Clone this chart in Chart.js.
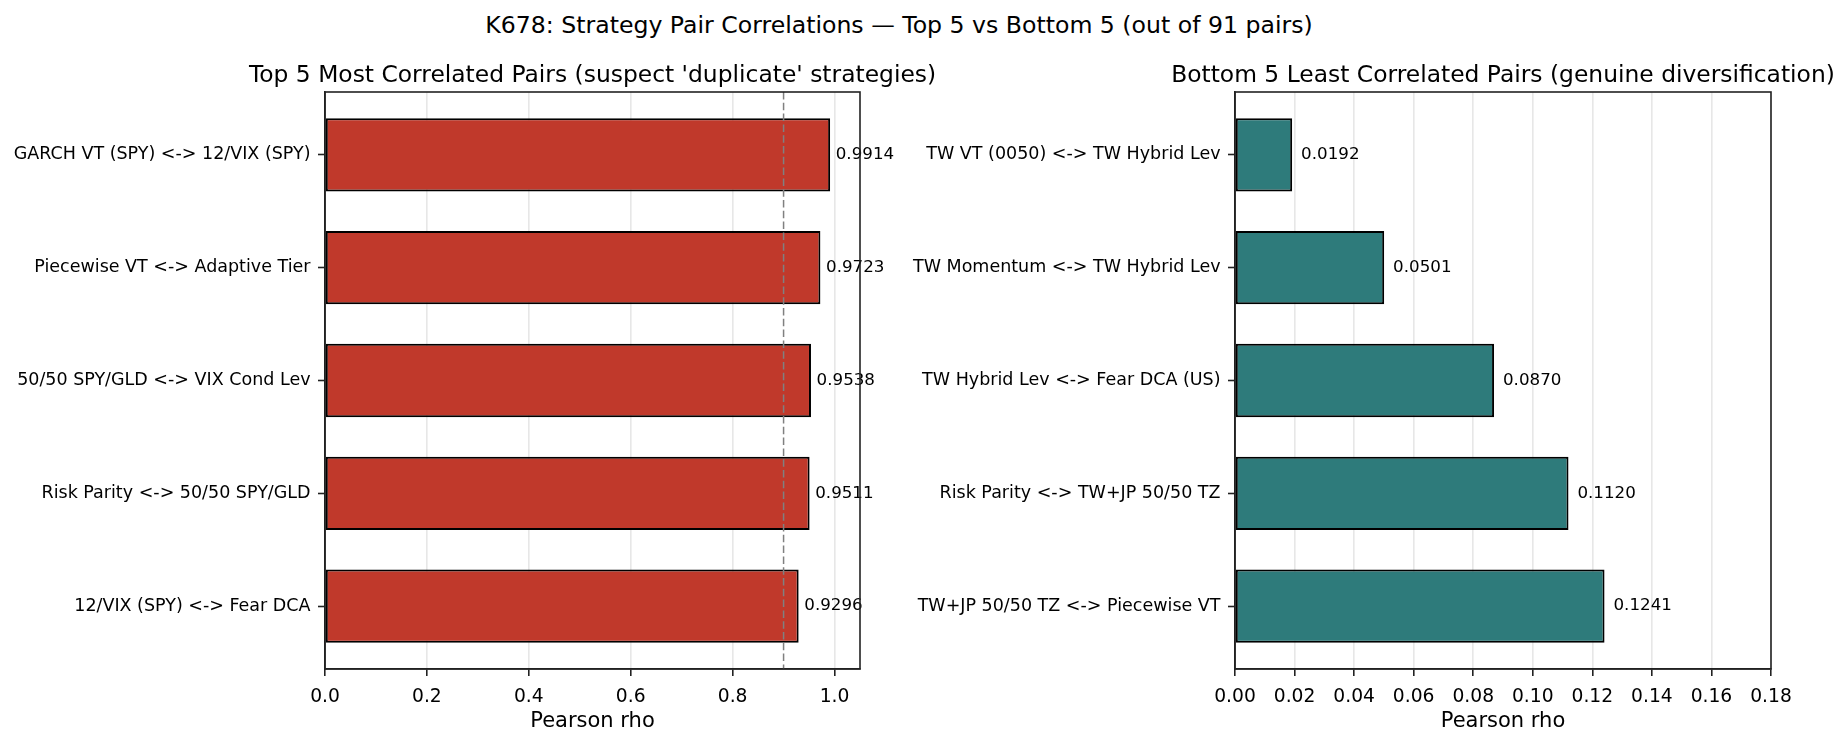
<!DOCTYPE html>
<html>
<head>
<meta charset="utf-8">
<title>K678 Strategy Pair Correlations</title>
<script src="https://cdn.jsdelivr.net/npm/chart.js@4.4.1/dist/chart.umd.min.js"></script>
<style>
  html, body { margin: 0; padding: 0; background: #fff; }
  #page { position: relative; width: 1848px; height: 744px; overflow: hidden; font-family: "DejaVu Sans", sans-serif; }
  #suptitle { position: absolute; left: 0; width: 1798px; top: 14px; font-size: 23.6px; line-height: 23px; text-align: center; color: #000; white-space: nowrap; }
  canvas { position: absolute; top: 0; }
  #top_chart { left: 0; }
  #bottom_chart { left: 905px; }
</style>
</head>
<body>
<div id="page">
  <div id="suptitle">K678: Strategy Pair Correlations — Top 5 vs Bottom 5 (out of 91 pairs)</div>
  <canvas id="top_chart" width="950" height="744"></canvas>
  <canvas id="bottom_chart" width="943" height="744"></canvas>
</div>
<script>
// Chart data
const top_pairs = [
  "GARCH VT (SPY) <-> 12/VIX (SPY)",
  "Piecewise VT <-> Adaptive Tier",
  "50/50 SPY/GLD <-> VIX Cond Lev",
  "Risk Parity <-> 50/50 SPY/GLD",
  "12/VIX (SPY) <-> Fear DCA",
];
const top_rho = [0.9914, 0.9723, 0.9538, 0.9511, 0.9296];

const bottom_pairs = [
  "TW VT (0050) <-> TW Hybrid Lev",
  "TW Momentum <-> TW Hybrid Lev",
  "TW Hybrid Lev <-> Fear DCA (US)",
  "Risk Parity <-> TW+JP 50/50 TZ",
  "TW+JP 50/50 TZ <-> Piecewise VT",
];
const bottom_rho = [0.0192, 0.0501, 0.087, 0.112, 0.1241];

// x axis limits and ticks
const top_x_max = 1.05;
const top_x_step = 0.2;
const bottom_x_max = 0.18;
const bottom_x_step = 0.02;
const duplicate_threshold = 0.9; // dashed line on the left panel

const font_family = "'DejaVu Sans', sans-serif";
Chart.defaults.font.family = font_family;
Chart.defaults.color = "#000";

// Draws the panel title, dashed threshold, value labels and the box around the plot
const pair_overlay = {
  id: "pair_overlay",
  afterDraw(chart, args, opts) {
    const { ctx, chartArea: area, scales } = chart;
    const x = scales.x;
    const y = scales.y;
    ctx.save();

    // panel title, centred over the plot area
    ctx.fillStyle = "#000";
    ctx.font = "23.4px " + font_family;
    ctx.textAlign = "center";
    ctx.textBaseline = "middle";
    ctx.fillText(opts.title, (area.left + area.right) / 2, 76);

    if (opts.threshold != null) {
      const tx = x.getPixelForValue(opts.threshold);
      ctx.strokeStyle = "#808080";
      ctx.lineWidth = 1.5;
      ctx.setLineDash([7.5, 3.3]);
      ctx.beginPath();
      ctx.moveTo(tx, area.top);
      ctx.lineTo(tx, area.bottom);
      ctx.stroke();
      ctx.setLineDash([]);
    }

    // value labels next to each bar
    ctx.font = "16.7px " + font_family;
    ctx.textAlign = "left";
    chart.data.datasets[0].data.forEach((pt) => {
      const lx = x.getPixelForValue(pt.x + opts.label_offset);
      const ly = y.getPixelForValue(pt.y);
      ctx.fillText(pt.x.toFixed(4), lx, ly);
    });

    // box spines
    ctx.strokeStyle = "#222";
    ctx.lineWidth = 1.6;
    ctx.strokeRect(area.left, area.top, area.right - area.left, area.bottom - area.top);
    ctx.restore();
  },
};

function renderPairChart(canvas_id, title, labels, values, cfg) {
  const bar_height = 0.65;
  // matplotlib style limits: bar extent plus 5% margin
  const extent = values.length - 1 + bar_height;
  const y_min = -bar_height / 2 - 0.05 * extent;
  const y_max = values.length - 1 + bar_height / 2 + 0.05 * extent;

  const ctx = document.getElementById(canvas_id).getContext("2d");
  return new Chart(ctx, {
    type: "bar",
    data: {
      datasets: [
        {
          data: values.map((v, i) => ({ x: v, y: i })),
          backgroundColor: cfg.color,
          borderColor: "#000",
          borderWidth: 2,
          borderSkipped: false,
          barPercentage: bar_height,
          categoryPercentage: 1,
        },
      ],
    },
    options: {
      indexAxis: "y",
      responsive: false,
      animation: false,
      devicePixelRatio: 1,
      layout: { padding: { left: 0, right: cfg.pad_right, top: 92, bottom: 0 } },
      plugins: {
        legend: { display: false },
        tooltip: { enabled: false },
        title: { display: false },
        pair_overlay: {
          title: title,
          threshold: cfg.threshold,
          label_offset: cfg.label_offset,
        },
      },
      scales: {
        x: {
          type: "linear",
          min: 0,
          max: cfg.x_max,
          z: 1,
          afterFit: (scale) => {
            scale.height = 75;
          },
          grid: {
            color: "rgba(176,176,176,0.3)",
            lineWidth: 1.6,
            tickColor: "#222",
            tickWidth: 1.6,
            tickLength: 7,
          },
          border: { color: "#222", width: 1.6 },
          ticks: {
            stepSize: cfg.x_step,
            includeBounds: false,
            padding: 10,
            color: "#000",
            font: { size: 18.7 },
            maxRotation: 0,
            callback: (v) => v.toFixed(cfg.decimals),
          },
          title: {
            display: true,
            text: "Pearson rho",
            color: "#000",
            font: { size: 21 },
            padding: { top: 0, bottom: 9.5 },
          },
        },
        y: {
          type: "linear",
          reverse: true,
          offset: false,
          min: y_min,
          max: y_max,
          afterFit: (scale) => {
            scale.width = cfg.y_width;
          },
          grid: {
            offset: false,
            drawOnChartArea: false,
            tickColor: "#222",
            tickWidth: 1.6,
            tickLength: 7,
          },
          border: { color: "#222", width: 1.6 },
          ticks: {
            stepSize: 1,
            includeBounds: false,
            autoSkip: false,
            padding: 7.5,
            color: "#000",
            font: { size: 17.5 },
            callback: (v) => (labels[v] !== undefined ? labels[v] : ""),
          },
        },
      },
    },
    plugins: [pair_overlay],
  });
}

renderPairChart(
  "top_chart",
  "Top 5 Most Correlated Pairs (suspect 'duplicate' strategies)",
  top_pairs,
  top_rho,
  {
    color: "#c0392b",
    x_max: top_x_max,
    x_step: top_x_step,
    decimals: 1,
    threshold: duplicate_threshold,
    label_offset: 0.011,
    y_width: 325,
    pad_right: 90,
  }
);

renderPairChart(
  "bottom_chart",
  "Bottom 5 Least Correlated Pairs (genuine diversification)",
  bottom_pairs,
  bottom_rho,
  {
    color: "#2e7b7b",
    x_max: bottom_x_max,
    x_step: bottom_x_step,
    decimals: 2,
    threshold: null,
    label_offset: 0.003,
    y_width: 330,
    pad_right: 77,
  }
);
</script>
</body>
</html>
